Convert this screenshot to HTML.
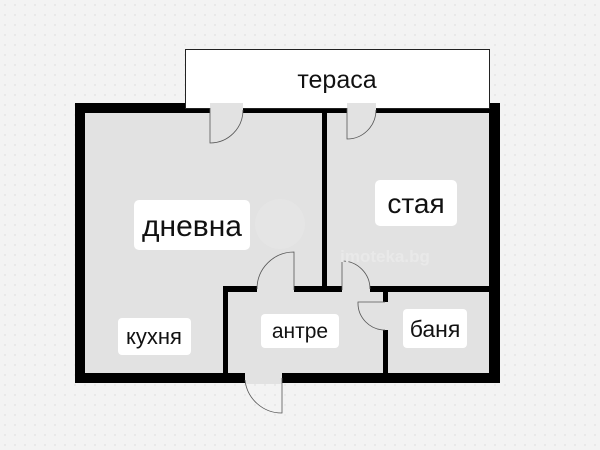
<!DOCTYPE html>
<html><head><meta charset="utf-8"><style>
html,body{margin:0;padding:0;width:600px;height:450px;overflow:hidden;background:#f3f3f3}
svg{display:block}
text{font-family:"Liberation Sans","DejaVu Sans",sans-serif;fill:#111}
</style></head><body>
<svg width="600" height="450" viewBox="0 0 600 450" xmlns="http://www.w3.org/2000/svg">
<defs>
<pattern id="d" width="10" height="10" patternUnits="userSpaceOnUse"><circle cx="5" cy="5" r="0.7" fill="#d8d8d8"/></pattern>
</defs>
<rect width="600" height="450" fill="#f3f3f3"/>
<rect width="600" height="450" fill="url(#d)"/>
<rect x="75" y="103" width="425" height="280" fill="#000"/>
<rect x="85" y="113" width="404" height="260" fill="#e2e2e2"/>
<rect x="185.5" y="49.5" width="304" height="59" fill="#fff" stroke="#222" stroke-width="1"/>
<text x="337" y="88" font-size="25" text-anchor="middle">тераса</text>
<rect x="210" y="103" width="33" height="11" fill="#e2e2e2"/>
<rect x="347" y="103" width="29" height="11" fill="#e2e2e2"/>
<path d="M210 108 V143 A33 33 0 0 0 243 110" fill="none" stroke="#555" stroke-width="0.8"/>
<path d="M347 108 V139 A29 29 0 0 0 376 110" fill="none" stroke="#555" stroke-width="0.8"/>
<rect x="322" y="113" width="5" height="175" fill="#000"/>
<rect x="223" y="286" width="266" height="6" fill="#000"/>
<rect x="223" y="286" width="5" height="87" fill="#000"/>
<rect x="383" y="290" width="5" height="83" fill="#000"/>
<rect x="257" y="285" width="37" height="8" fill="#e2e2e2"/>
<rect x="342" y="285" width="28" height="8" fill="#e2e2e2"/>
<rect x="382" y="302" width="7" height="28" fill="#e2e2e2"/>
<rect x="245" y="372" width="37" height="12" fill="#e2e2e2"/>
<path d="M294 290 V252 A37 37 0 0 0 257 289" fill="none" stroke="#555" stroke-width="0.8"/>
<path d="M342 290 V261 A28 28 0 0 1 370 289" fill="none" stroke="#555" stroke-width="0.8"/>
<path d="M385 302 H358 A27 27 0 0 0 385 330" fill="none" stroke="#555" stroke-width="0.8"/>
<path d="M282 378 V413 A37 37 0 0 1 245 380" fill="none" stroke="#555" stroke-width="0.8"/>
<circle cx="280" cy="224" r="25" fill="#e5e5e5"/>
<text x="385" y="262" font-size="17" text-anchor="middle" style="fill:#e9e9e9" font-weight="bold">imoteka.bg</text>
<rect x="134" y="200" width="116" height="50" rx="5" fill="#fff"/>
<text x="192" y="236" font-size="30" text-anchor="middle">дневна</text>
<rect x="375" y="180" width="82" height="46" rx="5" fill="#fff"/>
<text x="416" y="213" font-size="28" text-anchor="middle">стая</text>
<rect x="118" y="318" width="73" height="37" rx="4" fill="#fff"/>
<text x="154" y="344" font-size="22" text-anchor="middle">кухня</text>
<rect x="261" y="314" width="78" height="34" rx="4" fill="#fff"/>
<text x="300" y="338" font-size="21" text-anchor="middle">антре</text>
<rect x="403" y="309" width="64" height="39" rx="4" fill="#fff"/>
<text x="435" y="337" font-size="23" text-anchor="middle">баня</text>
</svg>
</body></html>
